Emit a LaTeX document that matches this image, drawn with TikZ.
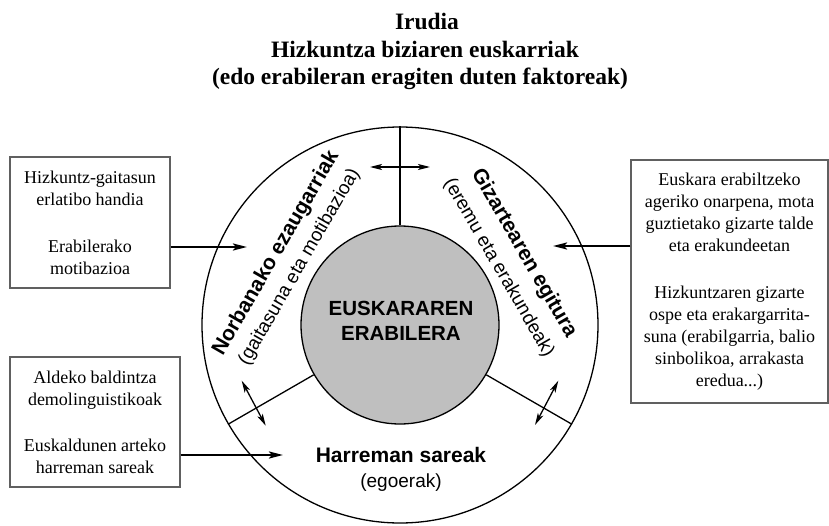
\documentclass[tikz,border=0pt]{standalone}
\usepackage{fontspec}
\setmainfont{Liberation Serif}
\setsansfont{Liberation Sans}
\usetikzlibrary{arrows.meta}

\begin{document}
\begin{tikzpicture}[x=1pt, y=1pt,
infobox/.style={draw=gray!75!black, line width=1.3pt, align=center, inner sep=0pt, font=\fontsize{18}{22}\selectfont},
input/.style={line width=2.4pt, -{Stealth[length=14pt, width=7pt, inset=3pt]}},
twoway/.style={line width=1.3pt, {Stealth[length=12pt, width=6pt, inset=3pt]}-{Stealth[length=12pt, width=6pt, inset=3pt]}},
head/.style={font=\sffamily\bfseries\fontsize{21}{25}\selectfont, inner sep=0pt},
sub/.style={font=\sffamily\fontsize{19}{23}\selectfont, inner sep=0pt},
titleline/.style={anchor=base, inner sep=0pt, font=\bfseries\fontsize{23.5}{27}\selectfont}]
\useasboundingbox (-400,-200) rectangle (429,325);

% title
\node[titleline] (title1) at (27,295) {Irudia};
\node[titleline] (title2) at (25,267) {Hizkuntza biziaren euskarriak};
\node[titleline] (title3) at (20,240) {(edo erabileran eragiten duten faktoreak)};

% circles and sectors
\node[circle, draw, line width=1.3pt, minimum size=396pt] (outer) at (0,0) {};
\node[circle, draw, line width=1.3pt, fill=gray!50, minimum size=198pt] (core) at (0,0) {};
\foreach \a in {90,210,330}
  \draw[line width=1.3pt] (core.\a) -- (outer.\a);

\node[head, align=center, font=\sffamily\bfseries\fontsize{20.5}{25}\selectfont] (use) at (1,4.5) {EUSKARAREN\\ERABILERA};
\node[head, rotate=60] (norbanako) at (150:143) {Norbanako ezaugarriak};
\node[sub, rotate=60] (gaitasuna) at (150:116) {(gaitasuna eta motibazioa)};
\node[head, rotate=-60] (gizartea) at (30:143) {Gizartearen egitura};
\node[sub, rotate=-60] (eremu) at (30:114) {(eremu eta erakundeak)};
\node[head, anchor=base] (harreman) at (1,-137) {Harreman sareak};
\node[sub, anchor=base] (egoerak) at (1,-162) {(egoerak)};

% two-way arrows between sectors
\coordinate (t1) at (-30,158);
\coordinate (t2) at (30,158);
\coordinate (l1) at (-158.3,-55.7);
\coordinate (l2) at (-134.3,-100.7);
\coordinate (r1) at (158.3,-55.7);
\coordinate (r2) at (135,-100);
\draw[twoway] (t1) -- (t2);
\draw[twoway] (l1) -- (l2);
\draw[twoway] (r1) -- (r2);

% factor boxes
\node[infobox, minimum width=160pt, minimum height=131pt] (gaitasunbox) at (-310,102.5)
  {Hizkuntz-gaitasun\\erlatibo handia\\[25pt]Erabilerako\\motibazioa};
\node[infobox, minimum width=170pt, minimum height=130pt] (demobox) at (-305,-97)
  {Aldeko baldintza\\demolinguistikoak\\[24pt]Euskaldunen arteko\\harreman sareak};
\node[infobox, minimum width=197pt, minimum height=243pt] (gizartebox) at (329.5,43.5)
  {Euskara erabiltzeko\\ageriko onarpena, mota\\guztietako gizarte talde\\eta erakundeetan\\[25pt]Hizkuntzaren gizarte\\ospe eta erakargarrita-\\suna (erabilgarria, balio\\sinbolikoa, arrakasta\\eredua...)};

\coordinate (tipA) at (-153,78);
\coordinate (tipB) at (-117,-130);
\coordinate (tipC) at (153,79);
\draw[input] (gaitasunbox.east |- tipA) -- (tipA);
\draw[input] (demobox.east |- tipB) -- (tipB);
\draw[input] (gizartebox.west |- tipC) -- (tipC);
\end{tikzpicture}
\end{document}
